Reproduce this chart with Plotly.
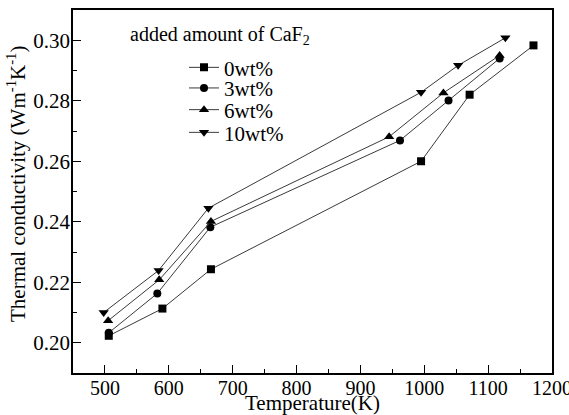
import plotly.graph_objects as go

# Data
t_0 = [506, 590, 666, 995, 1071, 1171]
k_0 = [0.2023, 0.2113, 0.2243, 0.2600, 0.2820, 0.2983]

t_3 = [506, 582, 665, 962, 1038, 1118]
k_3 = [0.2033, 0.2163, 0.2382, 0.2669, 0.2801, 0.2940]

t_6 = [505, 585, 666, 945, 1030, 1118]
k_6 = [0.2073, 0.2208, 0.2401, 0.2681, 0.2826, 0.2950]

t_10 = [498, 584, 662, 995, 1053, 1127]
k_10 = [0.2100, 0.2239, 0.2445, 0.2828, 0.2917, 0.3008]

labels = ["0wt%", "3wt%", "6wt%", "10wt%"]
symbols = ["square", "circle", "triangle-up", "triangle-down"]

x_ticks = [500, 600, 700, 800, 900, 1000, 1100, 1200]
y_ticks = [0.20, 0.22, 0.24, 0.26, 0.28, 0.30]

FONT = "Liberation Serif, Times New Roman, serif"
FS_XTICK = 20
FS_YTICK = 21
FS_TITLE = 21
FS_LEG = 21
FS_LEGTITLE = 20

series = [(t_0, k_0), (t_3, k_3), (t_6, k_6), (t_10, k_10)]
legend_names = ["legend", "legend2", "legend3", "legend4"]

# plot area pixel geometry (for legend placement)
L, R, T, B = 73, 552, 10, 373
W, H = R - L, B - T
row_py = [67.7, 88.3, 110.0, 132.7]
leg_left_px = 184


def px_x(px):
    return (px - L) / W


def px_y(py):
    return (B - py) / H


fig = go.Figure()
for (xs, ys), name, sym, lg in zip(series, labels, symbols, legend_names):
    fig.add_trace(go.Scatter(
        x=xs, y=ys, name=name, mode="lines+markers",
        line=dict(color="#3a3a3a", width=1),
        marker=dict(symbol=sym, size=9 if "triangle" in sym else 8, color="black"),
        legend=lg,
    ))

layout_legends = {}
for lg, py in zip(legend_names, row_py):
    layout_legends[lg] = dict(
        x=px_x(leg_left_px), y=px_y(py),
        xanchor="left", yanchor="middle",
        bgcolor="rgba(0,0,0,0)", borderwidth=0,
        font=dict(family=FONT, size=FS_LEG, color="black"),
        itemclick=False, itemdoubleclick=False,
    )

fig.update_layout(
    width=569, height=415,
    margin=dict(l=L, r=569 - R, t=T, b=415 - B, autoexpand=False),
    plot_bgcolor="white", paper_bgcolor="white",
    font=dict(family=FONT, size=FS_YTICK, color="black"),
    showlegend=True,
    **layout_legends,
    annotations=[
        dict(text="added amount of CaF<sub>2</sub>",
             xref="paper", yref="paper", x=px_x(128), y=px_y(35),
             xanchor="left", yanchor="middle", showarrow=False,
             font=dict(family=FONT, size=FS_LEGTITLE, color="black")),
        dict(text="Temperature(K)",
             xref="paper", yref="paper", x=0.5, y=px_y(403),
             xanchor="center", yanchor="middle", showarrow=False,
             font=dict(family=FONT, size=FS_TITLE, color="black")),
        dict(text="Thermal conductivity (Wm<sup>-1</sup>K<sup>-1</sup>)",
             xref="paper", yref="paper", x=px_x(17), y=px_y(184),
             xanchor="center", yanchor="middle", showarrow=False, textangle=-90,
             font=dict(family=FONT, size=FS_TITLE, color="black")),
    ],
)

fig.update_xaxes(
    range=[450, 1200], tickvals=x_ticks, ticktext=[str(v) for v in x_ticks],
    ticks="inside", ticklen=8, tickwidth=1.2, tickcolor="black",
    minor=dict(ticks="inside", ticklen=4, dtick=50, tick0=450, tickcolor="black", tickwidth=1.2),
    showline=True, linecolor="black", linewidth=1.5, mirror=True,
    showgrid=False, zeroline=False, automargin=False, ticklabeloverflow="allow",
    ticklabelstandoff=-4,
    tickfont=dict(family=FONT, size=FS_XTICK, color="black"),
)
fig.update_yaxes(
    range=[0.19, 0.31], tickvals=y_ticks, ticktext=[f"{v:.2f}" for v in y_ticks],
    ticks="inside", ticklen=8, tickwidth=1.2, tickcolor="black",
    minor=dict(ticks="inside", ticklen=4, dtick=0.01, tick0=0.19, tickcolor="black", tickwidth=1.2),
    showline=True, linecolor="black", linewidth=1.5, mirror=True,
    showgrid=False, zeroline=False, automargin=False, ticklabeloverflow="allow",
    ticklabelstandoff=-3,
    tickfont=dict(family=FONT, size=FS_YTICK, color="black"),
)

fig.write_html(
    "out.html",
    config={"displayModeBar": False},
    post_script="document.body.style.margin='0px';document.body.style.overflow='hidden';",
)
